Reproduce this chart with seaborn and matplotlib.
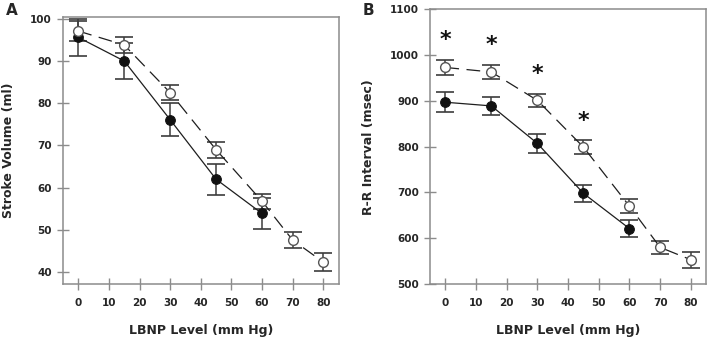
import seaborn as sns
import matplotlib.pyplot as plt

# LBNP levels (mm Hg)
lbnp_filled = [0, 15, 30, 45, 60]
lbnp_open = [0, 15, 30, 45, 60, 70, 80]

# panel A - stroke volume (ml)
sv_filled = [95.6, 90.0, 76.1, 62.0, 53.9]
sv_filled_err = [4.4, 4.3, 3.9, 3.7, 3.7]
sv_open = [97.1, 93.8, 82.5, 69.0, 56.8, 47.6, 42.4]
sv_open_err = [2.4, 2.0, 1.8, 1.9, 1.8, 1.8, 2.1]

# panel B - R-R interval (msec)
rr_filled = [897, 889, 807, 698, 621]
rr_filled_err = [22, 20, 20, 19, 19]
rr_open = [973, 963, 901, 799, 670, 580, 553]
rr_open_err = [17, 16, 15, 16, 15, 14, 17]
sig_levels = [0, 15, 30, 45]

sns.set_theme(style="ticks")
plt.rcParams['font.family'] = ['DejaVu Sans']
plt.rcParams['font.weight'] = 'bold'

spine_col = '#8c8c8c'
line_col = '#1e1e1e'
err_col = '#3c3c3c'

fig = plt.figure(figsize=(7.09, 3.42), dpi=100)
ax_a = fig.add_axes([0.0889, 0.1696, 0.3886, 0.7816])
ax_b = fig.add_axes([0.6065, 0.1696, 0.3895, 0.8032])


def draw_panel(ax, yf, yf_err, yo, yo_err):
    ax.errorbar(lbnp_filled, yf, yerr=yf_err, fmt='none', ecolor=err_col,
                elinewidth=1.1, capsize=6.5, capthick=1.2, zorder=2)
    ax.errorbar(lbnp_open, yo, yerr=yo_err, fmt='none', ecolor=err_col,
                elinewidth=1.1, capsize=6.5, capthick=1.2, zorder=2)
    sns.lineplot(x=lbnp_filled, y=yf, ax=ax, color=line_col, lw=0.9,
                 marker='o', markersize=7, markerfacecolor='#111111',
                 markeredgecolor='#111111', zorder=3)
    sns.lineplot(x=lbnp_open, y=yo, ax=ax, color=line_col, lw=0.9,
                 linestyle=(0, (11, 6)), marker='o', markersize=7,
                 markerfacecolor='white', markeredgecolor='#555555',
                 markeredgewidth=1.0, zorder=4)

    ax.set_xlim(-5, 85)
    ax.set_xticks(range(0, 81, 10))
    ax.tick_params(axis='both', direction='inout', length=8, width=1.0,
                   color=spine_col, labelsize=7.5, pad=4,
                   bottom=True, left=True)
    ax.tick_params(axis='x', pad=6)
    for side in ax.spines.values():
        side.set_visible(True)
        side.set_color(spine_col)
        side.set_linewidth(1.1)
    for lab in ax.get_xticklabels() + ax.get_yticklabels():
        lab.set_fontweight('bold')
    ax.set_xlabel('LBNP Level (mm Hg)', fontsize=9, fontweight='bold')


draw_panel(ax_a, sv_filled, sv_filled_err, sv_open, sv_open_err)
ax_a.set_ylim(37.2, 100.5)
ax_a.set_yticks(range(40, 101, 10))
ax_a.set_ylabel('Stroke Volume (ml)', fontsize=9, fontweight='bold')
ax_a.xaxis.set_label_coords(0.5, -0.15)
ax_a.yaxis.set_label_coords(-0.175, 0.5)

draw_panel(ax_b, rr_filled, rr_filled_err, rr_open, rr_open_err)
ax_b.set_ylim(500, 1100)
ax_b.set_yticks(range(500, 1101, 100))
ax_b.set_ylabel('R-R Interval (msec)', fontsize=9, fontweight='bold')
ax_b.xaxis.set_label_coords(0.5, -0.145)
ax_b.yaxis.set_label_coords(-0.2, 0.5)

# significance marks above the open-circle series
for lv in sig_levels:
    i = lbnp_open.index(lv)
    ax_b.text(lv, rr_open[i] + rr_open_err[i] + 42, '*', ha='center',
              va='center', fontsize=16, fontweight='bold', color='#111111')

fig.text(0.016, 0.97, 'A', fontsize=11, fontweight='bold', va='center', ha='center')
fig.text(0.52, 0.97, 'B', fontsize=11, fontweight='bold', va='center', ha='center')

fig.savefig('out.png', dpi=100, facecolor='white')
